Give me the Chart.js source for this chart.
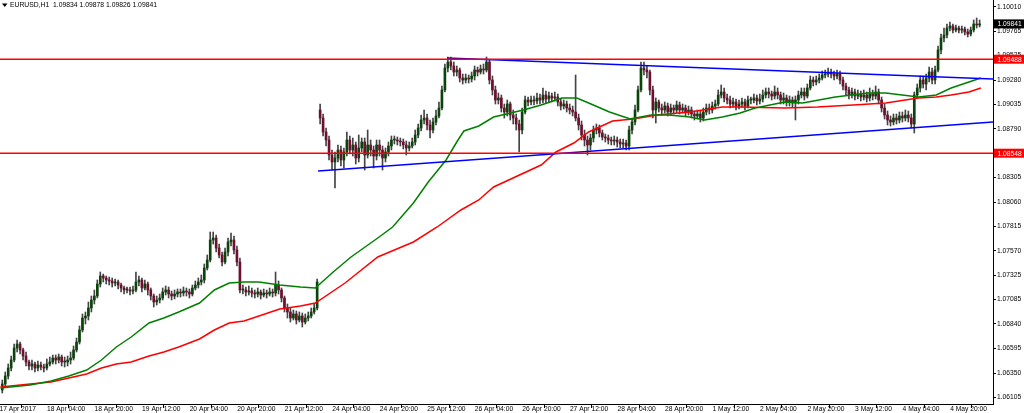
<!DOCTYPE html>
<html>
<head>
<meta charset="utf-8">
<script src="https://cdn.jsdelivr.net/npm/chart.js@4.4.1/dist/chart.umd.min.js"></script>
<style>
  html, body { margin: 0; padding: 0; background: #fff; }
  #chart { display: block; }
</style>
</head>
<body>
<canvas id="chart" width="1024" height="413"></canvas>
<script>
// EURUSD H1 candles (bar 1 = first visible bar)
const symbolTitle = 'EURUSD,H1  1.09834 1.09878 1.09826 1.09841';
const firstOpen = 1.0618;
const gapOpens = { 108: 1.0898 };   // monday open after the weekend gap

const closes = [
  1.0624,1.0632,1.0640,1.0648,1.0660,1.0664,1.0658,1.0652,1.0646,1.0642,
  1.0644,1.0640,1.0643,1.0641,1.0640,1.0644,1.0646,1.0650,1.0648,1.0651,
  1.0646,1.0646,1.0648,1.0650,1.0658,1.0666,1.0678,1.0690,1.0692,1.0700,
  1.0708,1.0712,1.0724,1.0732,1.0730,1.0728,1.0727,1.0725,1.0726,1.0723,
  1.0720,1.0718,1.0718,1.0717,1.0718,1.0726,1.0728,1.0720,1.0724,1.0718,
  1.0712,1.0706,1.0708,1.0710,1.0716,1.0718,1.0714,1.0712,1.0714,1.0716,
  1.0715,1.0717,1.0716,1.0714,1.0720,1.0723,1.0726,1.0728,1.0740,1.0748,
  1.0768,1.0770,1.0760,1.0753,1.0746,1.0756,1.0766,1.0768,1.0758,1.0746,
  1.0718,1.0718,1.0716,1.0717,1.0715,1.0714,1.0716,1.0713,1.0715,1.0714,
  1.0716,1.0715,1.0723,1.0718,1.0710,1.0700,1.0696,1.0690,1.0694,1.0688,
  1.0692,1.0686,1.0690,1.0692,1.0696,1.0700,1.0726,1.0890,1.0876,1.0868,
  1.0853,1.0846,1.0850,1.0858,1.0848,1.0856,1.0868,1.0858,1.0863,1.0850,
  1.0860,1.0866,1.0853,1.0863,1.0858,1.0852,1.0863,1.0858,1.0850,1.0856,
  1.0862,1.0868,1.0868,1.0867,1.0866,1.0863,1.0860,1.0862,1.0866,1.0873,
  1.0880,1.0888,1.0890,1.0883,1.0878,1.0886,1.0892,1.0900,1.0918,1.0940,
  1.0946,1.0942,1.0936,1.0938,1.0930,1.0928,1.0930,1.0929,1.0932,1.0938,
  1.0936,1.0939,1.0938,1.0946,1.0928,1.0918,1.0908,1.0910,1.0900,1.0896,
  1.0904,1.0893,1.0890,1.0884,1.0878,1.0896,1.0908,1.0906,1.0908,1.0907,
  1.0910,1.0908,1.0913,1.0909,1.0912,1.0910,1.0911,1.0906,1.0902,1.0904,
  1.0900,1.0898,1.0896,1.0890,1.0883,1.0873,1.0868,1.0863,1.0870,1.0878,
  1.0880,1.0875,1.0871,1.0870,1.0868,1.0867,1.0868,1.0866,1.0864,1.0865,
  1.0862,1.0878,1.0886,1.0898,1.0918,1.0940,1.0938,1.0936,1.0918,1.0898,
  1.0906,1.0900,1.0898,1.0902,1.0896,1.0900,1.0898,1.0903,1.0898,1.0900,
  1.0896,1.0898,1.0894,1.0892,1.0894,1.0890,1.0896,1.0900,1.0898,1.0902,
  1.0904,1.0913,1.0916,1.0910,1.0908,1.0904,1.0906,1.0902,1.0904,1.0906,
  1.0902,1.0908,1.0908,1.0910,1.0907,1.0909,1.0913,1.0916,1.0914,1.0912,
  1.0916,1.0913,1.0908,1.0910,1.0906,1.0908,1.0905,1.0908,1.0913,1.0916,
  1.0912,1.0920,1.0928,1.0926,1.0928,1.0930,1.0933,1.0934,1.0936,1.0934,
  1.0932,1.0934,1.0928,1.0922,1.0918,1.0913,1.0916,1.0912,1.0914,1.0911,
  1.0913,1.0910,1.0914,1.0912,1.0916,1.0908,1.0900,1.0893,1.0888,1.0886,
  1.0890,1.0888,1.0892,1.0890,1.0893,1.0890,1.0884,1.0913,1.0920,1.0928,
  1.0924,1.0930,1.0936,1.0928,1.0938,1.0958,1.0970,1.0973,1.0980,1.0982,
  1.0978,1.0980,1.0978,1.0979,1.0976,1.0974,1.0978,1.0984,1.0983,1.09841
];

const highs = [
  1.0628,1.0636,1.0644,1.0652,1.0664,1.0668,1.0666,1.0660,1.0656,1.0648,
  1.0648,1.0646,1.0647,1.0646,1.0644,1.0649,1.0651,1.0653,1.0653,1.0654,
  1.0653,1.0651,1.0652,1.0656,1.0662,1.0670,1.0682,1.0694,1.0696,1.0706,
  1.0712,1.0718,1.0728,1.0736,1.0734,1.0732,1.0731,1.0730,1.0729,1.0728,
  1.0725,1.0722,1.0721,1.0721,1.0722,1.0736,1.0732,1.0730,1.0728,1.0726,
  1.0720,1.0714,1.0712,1.0714,1.0720,1.0722,1.0721,1.0717,1.0718,1.0719,
  1.0719,1.0721,1.0720,1.0719,1.0723,1.0727,1.0730,1.0733,1.0744,1.0753,
  1.0776,1.0776,1.0773,1.0764,1.0756,1.0760,1.0770,1.0775,1.0772,1.0762,
  1.0750,1.0723,1.0721,1.0722,1.0720,1.0718,1.0720,1.0718,1.0719,1.0718,
  1.0720,1.0719,1.0736,1.0727,1.0720,1.0712,1.0704,1.0700,1.0698,1.0697,
  1.0696,1.0695,1.0694,1.0696,1.0700,1.0704,1.0729,1.0904,1.0894,1.0880,
  1.0872,1.0858,1.0856,1.0863,1.0862,1.0860,1.0876,1.0872,1.0870,1.0866,
  1.0873,1.0870,1.0870,1.0878,1.0868,1.0862,1.0868,1.0868,1.0862,1.0860,
  1.0866,1.0872,1.0872,1.0871,1.0870,1.0869,1.0867,1.0866,1.0870,1.0878,
  1.0884,1.0893,1.0898,1.0894,1.0888,1.0890,1.0898,1.0906,1.0922,1.0944,
  1.0951,1.0951,1.0946,1.0942,1.0940,1.0934,1.0934,1.0933,1.0936,1.0942,
  1.0941,1.0943,1.0944,1.0951,1.0948,1.0932,1.0922,1.0915,1.0913,1.0904,
  1.0908,1.0906,1.0898,1.0894,1.0888,1.0900,1.0912,1.0911,1.0912,1.0912,
  1.0915,1.0914,1.0920,1.0917,1.0916,1.0915,1.0916,1.0914,1.0909,1.0908,
  1.0907,1.0904,1.0902,1.0933,1.0894,1.0887,1.0878,1.0872,1.0874,1.0882,
  1.0884,1.0883,1.0878,1.0874,1.0873,1.0871,1.0872,1.0871,1.0869,1.0869,
  1.0868,1.0882,1.0890,1.0903,1.0922,1.0946,1.0946,1.0942,1.0938,1.0922,
  1.0910,1.0908,1.0904,1.0906,1.0905,1.0904,1.0903,1.0907,1.0906,1.0904,
  1.0903,1.0902,1.0901,1.0897,1.0898,1.0897,1.0900,1.0904,1.0904,1.0906,
  1.0908,1.0918,1.0923,1.0920,1.0914,1.0912,1.0910,1.0909,1.0908,1.0910,
  1.0909,1.0912,1.0911,1.0914,1.0913,1.0914,1.0918,1.0920,1.0920,1.0917,
  1.0922,1.0920,1.0916,1.0915,1.0913,1.0912,1.0911,1.0912,1.0917,1.0920,
  1.0920,1.0924,1.0932,1.0931,1.0932,1.0934,1.0937,1.0938,1.0940,1.0939,
  1.0937,1.0938,1.0937,1.0931,1.0925,1.0921,1.0920,1.0919,1.0918,1.0917,
  1.0918,1.0916,1.0920,1.0918,1.0922,1.0919,1.0911,1.0904,1.0897,1.0892,
  1.0894,1.0894,1.0896,1.0896,1.0898,1.0897,1.0894,1.0916,1.0924,1.0932,
  1.0932,1.0934,1.0941,1.0940,1.0942,1.0962,1.0974,1.0980,1.0984,1.0986,
  1.0984,1.0983,1.0982,1.0982,1.0981,1.0979,1.0981,1.0988,1.0990,1.0988
];

const lows = [
  1.0615,1.0621,1.0629,1.0637,1.0646,1.0656,1.0654,1.0648,1.0642,1.0638,
  1.0638,1.0636,1.0637,1.0638,1.0636,1.0638,1.0642,1.0644,1.0644,1.0645,
  1.0642,1.0641,1.0642,1.0644,1.0648,1.0656,1.0664,1.0676,1.0684,1.0688,
  1.0696,1.0704,1.0710,1.0721,1.0726,1.0724,1.0723,1.0721,1.0722,1.0719,
  1.0716,1.0714,1.0715,1.0713,1.0714,1.0716,1.0722,1.0716,1.0718,1.0713,
  1.0708,1.0701,1.0703,1.0705,1.0708,1.0713,1.0710,1.0708,1.0709,1.0711,
  1.0711,1.0712,1.0712,1.0710,1.0712,1.0718,1.0720,1.0723,1.0725,1.0738,
  1.0746,1.0764,1.0756,1.0750,1.0742,1.0744,1.0752,1.0762,1.0754,1.0742,
  1.0715,1.0714,1.0712,1.0713,1.0711,1.0710,1.0711,1.0709,1.0711,1.0710,
  1.0712,1.0711,1.0712,1.0714,1.0706,1.0696,1.0690,1.0686,1.0688,1.0684,
  1.0686,1.0681,1.0684,1.0687,1.0690,1.0694,1.0698,1.0884,1.0872,1.0862,
  1.0848,1.0838,1.0820,1.0846,1.0842,1.0840,1.0852,1.0854,1.0852,1.0844,
  1.0846,1.0856,1.0838,1.0850,1.0852,1.0840,1.0848,1.0852,1.0838,1.0846,
  1.0852,1.0858,1.0864,1.0863,1.0862,1.0859,1.0853,1.0857,1.0860,1.0863,
  1.0870,1.0877,1.0884,1.0878,1.0870,1.0875,1.0883,1.0890,1.0898,1.0916,
  1.0936,1.0938,1.0932,1.0932,1.0926,1.0924,1.0925,1.0925,1.0926,1.0928,
  1.0932,1.0934,1.0934,1.0936,1.0924,1.0913,1.0904,1.0904,1.0896,1.0890,
  1.0892,1.0888,1.0884,1.0878,1.0856,1.0874,1.0894,1.0902,1.0903,1.0903,
  1.0904,1.0904,1.0905,1.0905,1.0906,1.0906,1.0907,1.0902,1.0898,1.0899,
  1.0896,1.0894,1.0892,1.0887,1.0878,1.0868,1.0862,1.0853,1.0858,1.0866,
  1.0874,1.0871,1.0868,1.0866,1.0864,1.0863,1.0863,1.0861,1.0860,1.0860,
  1.0858,1.0858,1.0874,1.0883,1.0896,1.0916,1.0933,1.0930,1.0913,1.0890,
  1.0885,1.0896,1.0893,1.0895,1.0892,1.0893,1.0894,1.0895,1.0894,1.0895,
  1.0892,1.0893,1.0890,1.0888,1.0889,1.0886,1.0887,1.0893,1.0894,1.0895,
  1.0899,1.0902,1.0910,1.0906,1.0904,1.0900,1.0901,1.0898,1.0899,1.0901,
  1.0898,1.0900,1.0904,1.0905,1.0903,1.0904,1.0906,1.0910,1.0910,1.0908,
  1.0909,1.0909,1.0904,1.0904,1.0902,1.0902,1.0901,1.0888,1.0904,1.0910,
  1.0908,1.0910,1.0918,1.0922,1.0923,1.0925,1.0928,1.0930,1.0931,1.0930,
  1.0928,1.0929,1.0924,1.0918,1.0913,1.0909,1.0910,1.0908,1.0909,1.0907,
  1.0908,1.0906,1.0907,1.0908,1.0909,1.0904,1.0896,1.0889,1.0883,1.0882,
  1.0883,1.0884,1.0885,1.0886,1.0887,1.0886,1.0880,1.0875,1.0910,1.0916,
  1.0920,1.0918,1.0926,1.0924,1.0924,1.0936,1.0954,1.0966,1.0970,1.0977,
  1.0975,1.0976,1.0975,1.0975,1.0973,1.0971,1.0972,1.0976,1.0980,1.0981
];

// moving averages (bar position, price)
const maGreenAt = [1,11,18,24,30,35,40,45,51,56,61,68,73,78,83,88,95,102,107,113,119,128,133,140,145,151,155,157,162,167,177,183,190,195,199,206,213,220,226,233,238,244,250,255,265,271,282,293,299,310,316,321,327,331];
const maGreen = [1.0620,1.0623,1.0627,1.0632,1.0638,1.0648,1.0661,1.0671,1.0685,1.0690,1.0696,1.0705,1.0718,1.0725,1.0726,1.0726,1.0723,1.0721,1.0720,1.0736,1.0751,1.0770,1.0781,1.0805,1.0826,1.0848,1.0868,1.0877,1.0882,1.0891,1.0898,1.0903,1.0910,1.0910,1.0905,1.0896,1.0889,1.0893,1.0893,1.0891,1.0888,1.0891,1.0895,1.0900,1.0906,1.0905,1.0911,1.0915,1.0915,1.0911,1.0913,1.0920,1.0926,1.0930];
const maRedAt = [1,11,18,24,30,35,40,45,51,56,61,68,73,78,83,95,102,107,117,128,140,148,156,162,167,183,188,194,199,207,214,222,233,244,250,265,276,288,299,310,316,321,327,331];
const maRed = [1.0621,1.0624,1.0626,1.0630,1.0634,1.0640,1.0644,1.0646,1.0652,1.0656,1.0661,1.0669,1.0678,1.0685,1.0687,1.0699,1.0702,1.0705,1.0725,1.0751,1.0766,1.0781,1.0798,1.0808,1.0821,1.0843,1.0856,1.0865,1.0876,1.0887,1.0889,1.0893,1.0896,1.0901,1.0901,1.0900,1.0901,1.0903,1.0905,1.0910,1.0911,1.0913,1.0916,1.0920];

// drawn objects
const levels = [1.09488, 1.08548];
const lastPrice = 1.09841;
const upperTrendAt = [151.3, 335.1];
const upperTrend = [1.0950, 1.0929];
const lowerTrendAt = [107.9, 335.1];
const lowerTrend = [1.0837, 1.0886];

// axes
const yTicks = [1.10010,1.09765,1.09525,1.09280,1.09035,1.08790,1.08545,1.08305,1.08060,1.07815,1.07570,1.07325,1.07085,1.06840,1.06595,1.06350,1.06105];
const xTickAt = [0,16,32,48,64,80,96,112,128,144,160,176,192,208,224,240,256,272,288,304,320];
const xTickLabels = ['17 Apr 2017','18 Apr 04:00','18 Apr 20:00','19 Apr 12:00','20 Apr 04:00','20 Apr 20:00','21 Apr 12:00','24 Apr 04:00','24 Apr 20:00','25 Apr 12:00','26 Apr 04:00','26 Apr 20:00','27 Apr 12:00','28 Apr 04:00','28 Apr 20:00','1 May 12:00','2 May 04:00','2 May 20:00','3 May 12:00','4 May 04:00','4 May 20:00'];

const barShift = 0.6;
const xMin = 0.84, xMax = 335.1;
const yMin = 1.0604, yMax = 1.1008;

const bullColor = '#0b440b';
const bearColor = '#6e0f2f';
const wickColor = '#444444';
const axisFont = { family: 'Liberation Sans', size: 6.7 };

// build candles
const wickData = [], bodyData = [], bodyColors = [];
for (let i = 0; i < closes.length; i++) {
  const n = i + 1;
  const open = gapOpens[n] !== undefined ? gapOpens[n] : (i === 0 ? firstOpen : closes[i - 1]);
  wickData.push({ x: n + barShift, y: [lows[i], highs[i]] });
  bodyData.push({ x: n + barShift, y: [open, closes[i]] });
  bodyColors.push(closes[i] >= open ? bullColor : bearColor);
}

const pts = (xs, ys) => xs.map((x, i) => ({ x: x, y: ys[i] }));
const lineSet = (data, color, order) => ({
  type: 'line', data: data, borderColor: color, borderWidth: 1.5,
  pointRadius: 0, tension: 0, fill: false, order: order
});

// title and price boxes on the right
const overlay = {
  id: 'overlay',
  afterDraw(chart) {
    const ctx = chart.ctx;
    const ys = chart.scales.y;
    ctx.save();
    ctx.fillStyle = '#000';
    ctx.beginPath();
    ctx.moveTo(2, 3.5); ctx.lineTo(7.5, 3.5); ctx.lineTo(4.75, 7);
    ctx.closePath(); ctx.fill();
    ctx.font = '6.8px "Liberation Sans"';
    ctx.textBaseline = 'middle';
    ctx.fillText(symbolTitle, 10, 5.5);

    const box = (v, bg, txt) => {
      const py = ys.getPixelForValue(v);
      ctx.fillStyle = bg;
      ctx.fillRect(994, py - 4.5, 30, 9);
      ctx.fillStyle = '#fff';
      ctx.font = '6.7px "Liberation Sans"';
      ctx.fillText(txt, 997.5, py + 0.5);
    };
    levels.forEach(v => box(v, '#ff0000', v.toFixed(5)));
    box(lastPrice, '#000', lastPrice.toFixed(5));
    ctx.restore();
  }
};

const ctx = document.getElementById('chart');

const myChart = new Chart(ctx, {
  type: 'bar',
  data: {
    datasets: [
      lineSet([{ x: xMin, y: levels[0] }, { x: xMax, y: levels[0] }], '#ff0000', 0),
      lineSet([{ x: xMin, y: levels[1] }, { x: xMax, y: levels[1] }], '#ff0000', 0),
      lineSet(pts(upperTrendAt, upperTrend), '#0000ff', 0),
      lineSet(pts(lowerTrendAt, lowerTrend), '#0000ff', 0),
      lineSet(pts(maGreenAt, maGreen), '#008000', 1),
      lineSet(pts(maRedAt, maRed), '#ff0000', 1),
      {
        type: 'bar', data: bodyData, backgroundColor: bodyColors,
        barThickness: 2, minBarLength: 1, grouped: false, order: 2
      },
      {
        type: 'bar', data: wickData, backgroundColor: wickColor,
        barThickness: 1, grouped: false, order: 3
      }
    ]
  },
  options: {
    responsive: false,
    animation: false,
    devicePixelRatio: 1,
    layout: { padding: 0 },
    plugins: { legend: { display: false }, tooltip: { enabled: false } },
    scales: {
      x: {
        type: 'linear', min: xMin, max: xMax, offset: false,
        grid: { drawOnChartArea: false, drawTicks: true, tickLength: 4, color: '#000' },
        border: { display: true, color: '#000', width: 1 },
        ticks: {
          autoSkip: false, maxRotation: 0, align: 'start', labelOffset: 2,
          padding: -3, color: '#000', font: axisFont,
          callback: (v) => xTickLabels[xTickAt.indexOf(v)]
        },
        afterBuildTicks: (scale) => { scale.ticks = xTickAt.map(v => ({ value: v })); },
        afterFit: (scale) => {
          scale.height = 9;
          scale.paddingLeft = 0; scale.paddingRight = 0;
          scale.paddingTop = 0; scale.paddingBottom = 0;
        }
      },
      y: {
        type: 'linear', position: 'right', min: yMin, max: yMax,
        grid: { drawOnChartArea: false, drawTicks: true, tickLength: 3, color: '#000' },
        border: { display: true, color: '#000', width: 1 },
        ticks: {
          padding: 1, color: '#000', font: axisFont,
          callback: (v) => v.toFixed(5)
        },
        afterBuildTicks: (scale) => { scale.ticks = yTicks.map(v => ({ value: v })); },
        afterFit: (scale) => {
          scale.width = 31;
          scale.paddingLeft = 0; scale.paddingRight = 0;
          scale.paddingTop = 0; scale.paddingBottom = 0;
        }
      }
    }
  },
  plugins: [overlay]
});
</script>
</body>
</html>
